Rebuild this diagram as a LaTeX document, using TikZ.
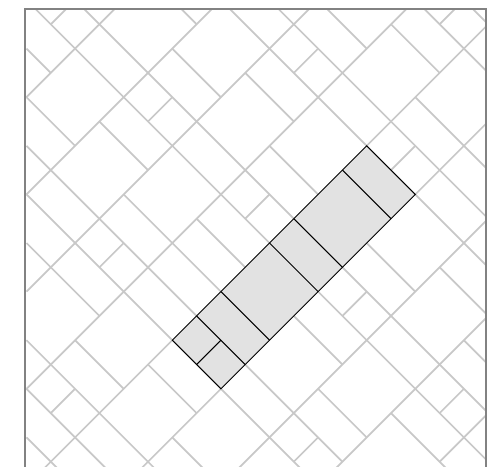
\documentclass[tikz,border=0pt]{standalone}
\usepackage{tikz}
\definecolor{tilegray}{RGB}{200,200,200}
\definecolor{bandfill}{RGB}{226,226,226}
\definecolor{framegray}{RGB}{130,130,130}

\begin{document}
\begin{tikzpicture}[x=0.5cm, y=0.5cm,
    seam/.style={draw=tilegray, line width=1pt},
    cut/.style={draw=black, line width=0.6pt},
    band/.style={fill=bandfill, draw=black, line width=0.6pt}]
  \useasboundingbox (-1.09,0) rectangle (18.95,-19.18);
  \begin{scope}
    \clip (-0.06,-0.38) rectangle (18.91,-19.6);
    % tiles live on a grid turned by 45 degrees: (u,w)
    \begin{scope}[cm={1,1,1,-1,(0,0)}]
      \foreach \u/\a/\b in {-9/9/10.5, -8/8/11.5, -7/7/12.5, -6/8/10, -6/12/13.5,
          -5/5/8, -5/10/12, -4/4/10, -4/12/15.5, -3/3/10, -3/12/16,
          -2/2/4, -2/6/10, -2/14/16, -1/1/2, -1/4/6, -1/8/10, -1/12/14, -1/16/18.5,
          0/0/10, 0/12/19.5, 1/1/10, 1/12/18, 2/4/6, 2/8/10, 2/12/14, 2/16/17,
          3/3/4, 3/6/8, 3/14/16, 4/4/10, 4/12/15, 5/5/14, 6/6/8, 6/10/13,
          7/8/10, 8/8/11, 9/9/10}
        \draw[seam] (\u,\a) -- (\u,\b);
      \foreach \w/\a/\b in {1/0/1, 2/-2/2, 4/-4/4, 5/0/1, 6/-6/6, 7/-4/-3, 7/4/5,
          8/-8/8, 9/-8/-7, 9/0/1, 9/8/9, 10/-10/-4, 10/4/9, 11/4/5, 12/-8/-4,
          12/4/7, 13/0/1, 14/-6/5, 15/-4/-3, 16/-4/3, 17/0/1, 18/-1/1}
        \draw[seam] (\a,\w) -- (\b,\w);
      \draw[band] (-4,10) -- (4,10) -- (4,12) -- (-4,12) -- cycle;
      \foreach \u in {-3,-2,0,1,3}
        \draw[cut] (\u,10) -- (\u,12);
      \draw[cut] (-4,11) -- (-3,11);
    \end{scope}
  \end{scope}
  \draw[framegray, line width=1.2pt] (-0.06,-19.6) |- (18.91,-0.38) -- (18.91,-19.6);
\end{tikzpicture}
\end{document}
